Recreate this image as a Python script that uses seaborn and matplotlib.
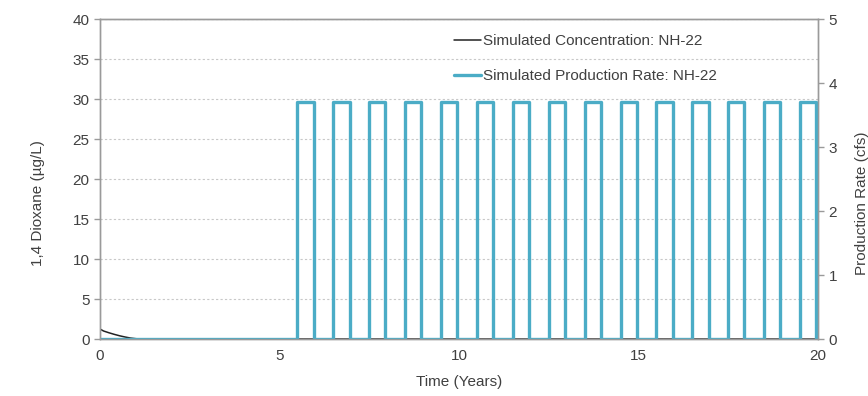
import matplotlib
matplotlib.use("Agg")
import matplotlib.pyplot as plt
import seaborn as sns
import pandas as pd

# Simulated 1,4-dioxane concentration at NH-22 (µg/L)
conc_time = [0.0, 0.1, 0.25, 0.4, 0.55, 0.7, 0.85, 1.0, 1.1, 20.0]
conc_value = [1.25, 1.0, 0.78, 0.58, 0.4, 0.25, 0.12, 0.04, 0.0, 0.0]

# Simulated production rate at NH-22 (cfs), step changes
prod_time = [0.0,
             5.5, 5.95, 6.5, 6.95, 7.5, 7.95, 8.5, 8.95, 9.5, 9.95,
             10.5, 10.95, 11.5, 11.95, 12.5, 12.95, 13.5, 13.95, 14.5, 14.95,
             15.5, 15.95, 16.5, 16.95, 17.5, 17.95, 18.5, 18.95, 19.5, 19.95,
             20.0]
prod_rate = [0.0,
             3.7, 0.0, 3.7, 0.0, 3.7, 0.0, 3.7, 0.0, 3.7, 0.0,
             3.7, 0.0, 3.7, 0.0, 3.7, 0.0, 3.7, 0.0, 3.7, 0.0,
             3.7, 0.0, 3.7, 0.0, 3.7, 0.0, 3.7, 0.0, 3.7, 0.0,
             0.0]

x_ticks = [0, 5, 10, 15, 20]
left_ticks = [0, 5, 10, 15, 20, 25, 30, 35, 40]
right_ticks = [0, 1, 2, 3, 4, 5]

sns.set_theme(style="white")
plt.rcParams["font.family"] = ["Liberation Sans", "DejaVu Sans"]

text_color = "#404040"
spine_color = "#9a9a9a"
blue = "#4BACC6"
fs = 11

fig = plt.figure(figsize=(8.68, 3.96), dpi=100)
ax = fig.add_axes([0.1152, 0.1439, 0.8272, 0.8081])
ax2 = ax.twinx()

conc_df = pd.DataFrame({"t": conc_time, "c": conc_value})
prod_df = pd.DataFrame({"t": prod_time, "q": prod_rate})

# concentration axis sits underneath so the blue step line covers the baseline
ax.set_zorder(1)
ax2.set_zorder(2)
ax2.patch.set_visible(False)

sns.lineplot(data=conc_df, x="t", y="c", ax=ax, color="#222222", linewidth=1.1,
             sort=False, estimator=None, legend=False)
sns.lineplot(data=prod_df, x="t", y="q", ax=ax2, color=blue, linewidth=2.4,
             drawstyle="steps-post", sort=False, estimator=None, legend=False)

ax.set_xlim(0, 20)
ax.set_ylim(0, 40)
ax2.set_ylim(0, 5)
ax.set_xticks(x_ticks)
ax.set_yticks(left_ticks)
ax2.set_yticks(right_ticks)

for a in (ax, ax2):
    for s in a.spines.values():
        s.set_color(spine_color)
        s.set_linewidth(1.0)
    a.tick_params(axis="both", colors=spine_color, labelcolor=text_color,
                  labelsize=fs, length=4, width=1.0, direction="out")

ax.yaxis.grid(True, linestyle=(0, (2, 2)), color="#c8c8c8", linewidth=0.8)
ax.set_axisbelow(True)

ax.set_xlabel("Time (Years)", color=text_color, fontsize=fs, labelpad=8)
ax.set_ylabel("1,4 Dioxane (µg/L)", color=text_color, fontsize=fs)
ax2.set_ylabel("Production Rate (cfs)", color=text_color, fontsize=fs,
               rotation=90)
ax2.set_xlabel("")
ax.yaxis.set_label_coords(-0.076, 0.425)
ax2.yaxis.set_label_coords(1.052, 0.425)

handles = [ax.lines[0], ax2.lines[0]]
labels = ["Simulated Concentration: NH-22", "Simulated Production Rate: NH-22"]
ax2.legend(handles, labels, loc="upper right", bbox_to_anchor=(0.878, 0.995),
           frameon=False, fontsize=fs, handlelength=1.8, handletextpad=0.1,
           labelspacing=1.35, labelcolor=text_color)

fig.savefig("out.png", dpi=100)
